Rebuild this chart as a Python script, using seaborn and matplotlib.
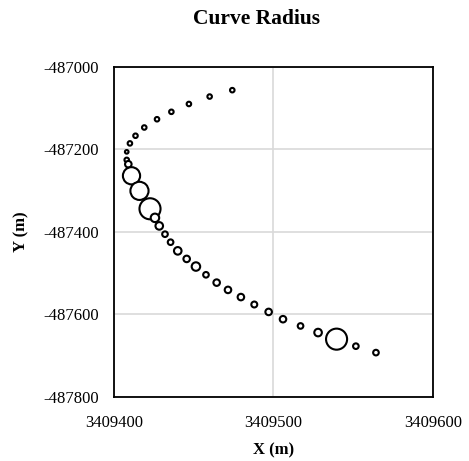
import numpy as np
import pandas as pd
import seaborn as sns
import matplotlib.pyplot as plt

sns.set_style("white")
plt.rcParams['font.family'] = ['Liberation Serif', 'DejaVu Serif']
plt.rcParams['axes.unicode_minus'] = False
plt.rcParams['text.color'] = 'black'
plt.rcParams['axes.labelcolor'] = 'black'

# points along the alignment
x_m = [3409474.2, 3409460.0, 3409447.0, 3409436.0, 3409427.0, 3409419.0, 3409413.5,
       3409410.0, 3409408.0, 3409408.0, 3409409.0, 3409411.0, 3409416.0, 3409422.6,
       3409425.7, 3409428.4, 3409432.0, 3409435.5, 3409440.0, 3409445.6, 3409451.4,
       3409457.7, 3409464.4, 3409471.5, 3409479.6, 3409488.0, 3409497.0, 3409506.0,
       3409517.0, 3409528.0, 3409539.6, 3409551.7, 3409564.3]
y_m = [-487056.5, -487072.0, -487090.0, -487109.0, -487127.0, -487147.0, -487167.0,
       -487185.5, -487206.0, -487225.5, -487236.0, -487264.0, -487300.6, -487344.0,
       -487366.0, -487385.5, -487405.6, -487425.0, -487446.0, -487465.5, -487484.0,
       -487504.0, -487523.0, -487540.6, -487558.0, -487576.0, -487594.0, -487611.6,
       -487628.0, -487644.0, -487660.0, -487677.0, -487692.6]
# bubble value (curve radius)
bubble = [6, 6, 6, 6, 6, 6, 6, 6, 4, 6, 12, 81, 90, 121, 20, 16, 9, 9, 16, 12, 20,
          9, 12, 12, 12, 10, 12, 12, 9, 16, 121, 9, 9]

df = pd.DataFrame({"x": x_m, "y": y_m, "r": bubble})

fig = plt.figure(figsize=(4.69, 4.61), dpi=100)
ax = fig.add_axes([0.243, 0.139, 0.680, 0.716])

sns.scatterplot(data=df, x="x", y="y", size="r", sizes=(4 * 1.7, 121 * 1.9),
                size_norm=(4, 121), color="white", edgecolor="black",
                linewidth=1.5, legend=False, ax=ax, zorder=3)

ax.set_xlim(3409400, 3409600)
ax.set_ylim(-487800, -487000)
ax.set_xticks([3409400, 3409500, 3409600])
ax.set_yticks([-487800, -487600, -487400, -487200, -487000])
ax.ticklabel_format(useOffset=False, style='plain')
ax.grid(True, color="#d9d9d9", linewidth=1.2)
ax.tick_params(axis="x", length=0, labelsize=12, colors="black", pad=13)
ax.tick_params(axis="y", length=0, labelsize=12, colors="black", pad=11)
for s in ax.spines.values():
    s.set_color("black")
    s.set_linewidth(1.3)

ax.set_xlabel("X (m)", fontsize=12, fontweight="bold", labelpad=8, color="black")
ax.set_ylabel("Y (m)", fontsize=12, fontweight="bold", labelpad=10, color="black")
fig.text(0.546, 0.958, "Curve Radius", ha="center", va="center",
         fontsize=15.5, fontweight="bold", color="black")

fig.savefig("out.png", dpi=100)
